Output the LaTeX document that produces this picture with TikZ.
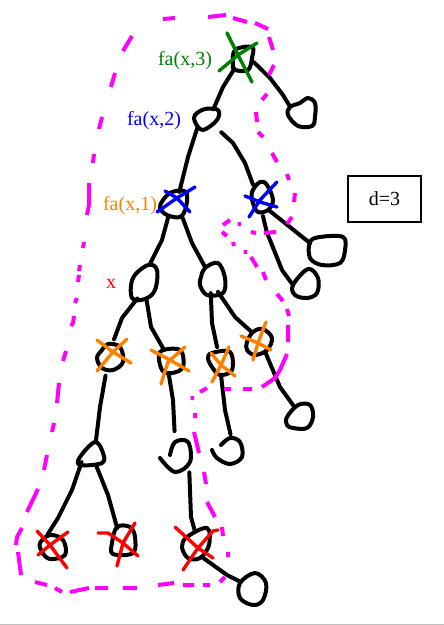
\documentclass[tikz,border=0pt]{standalone}
\usepackage{fontspec}
\setmainfont{Liberation Serif}
\definecolor{fagreen}{RGB}{0,128,0}
\definecolor{faorange}{RGB}{255,128,0}
\definecolor{fablue}{RGB}{0,0,255}
\definecolor{fared}{RGB}{255,0,0}
\definecolor{famagenta}{RGB}{255,0,255}
\definecolor{ruleline}{RGB}{192,192,192}

% a hand drawn tree vertex: name, position, diameter, outline
\newcommand{\blob}[4]{%
    \node[blob=#3] (#1) at (#2) {};
    \draw[penline] plot[smooth cycle, tension=0.6] coordinates {#4};
}
\newcommand{\openblob}[4]{%
    \node[blob=#3] (#1) at (#2) {};
    \draw[penline] plot[smooth, tension=0.6] coordinates {#4};
}

\begin{document}
\begin{tikzpicture}[
        x=1pt, y=-1pt,
        blob/.style={circle, inner sep=0pt, minimum size=#1},
        penline/.style={black, line width=4pt, line cap=round, line join=round},
        crossline/.style={line width=3.4pt, line cap=round, line join=round},
        dashline/.style={famagenta, line width=4pt, line cap=butt, line join=round},
        label/.style={font=\fontsize{20}{20}\selectfont, inner sep=0pt}
    ]
        \useasboundingbox (0,0) rectangle (444,625);
        \fill[white] (0,0) rectangle (444,625);
        \draw[ruleline, line width=1pt] (0,624) -- (444,624);

        % Vertices
        \blob{fa3}{242,59}{24pt}{(235,50) (252,47) (252,58) (248,70) (235,70) (233,65)}
        \blob{top}{302,112}{28pt}{(290,107) (300,103) (308,98) (315,103) (315,117) (312,126) (298,126) (288,115)}
        \blob{fa2}{206,119}{24pt}{(195,115) (205,109) (218,110) (217,120) (203,130) (195,122)}
        \blob{fa1}{174,205}{28pt}{(172,192) (186,192) (186,207) (180,217) (167,215) (160,208) (163,200)}
        \blob{side}{262,197}{30pt}{(252,192) (260,182) (267,185) (273,200) (268,210) (258,212) (253,203)}
        \blob{sider}{327,250}{36pt}{(310,242) (320,237) (343,237) (345,250) (340,263) (322,265) (310,258)}
        \blob{sidel}{306,284}{28pt}{(293,285) (308,269) (318,278) (317,293) (307,298) (295,295)}
        \blob{xnode}{145,282}{36pt}{(148,265) (157,270) (155,290) (145,299) (132,298) (133,278)}
        \blob{ynode}{212,279}{28pt}{(205,268) (218,263) (225,278) (223,293) (207,295) (200,285) (201,277)}
        \blob{na}{110,357}{26pt}{(102,350) (108,344) (120,347) (123,362) (113,370) (102,368) (97,358)}
        \blob{nb}{171,361}{26pt}{(160,352) (180,350) (183,367) (172,373) (162,370)}
        \blob{nc}{220,363}{26pt}{(212,353) (230,352) (232,370) (220,375) (212,367) (208,358)}
        \blob{nd}{258,342}{26pt}{(253,332) (263,329) (272,338) (267,350) (255,355) (247,350) (247,342)}
        \blob{ne}{92,454}{26pt}{(80,457) (95,442) (103,453) (102,463) (80,465)}
        \openblob{nh}{178,455}{36pt}{(170,455) (175,442) (188,442) (190,462) (175,472) (160,458)}
        \openblob{nk}{228,451}{28pt}{(221,445) (230,438) (240,442) (242,457) (230,464) (217,458) (212,450)}
        \blob{nl}{300,417}{26pt}{(287,417) (298,405) (310,405) (313,417) (307,428) (293,428) (287,425)}
        \blob{nf}{52,547}{26pt}{(40,543) (50,535) (63,540) (65,555) (50,559) (42,552)}
        \blob{ng}{123,540}{26pt}{(117,527) (130,527) (135,537) (133,553) (113,554) (112,543)}
        \blob{ni}{196,545}{28pt}{(187,537) (207,528) (209,545) (200,558) (188,558) (182,547)}
        \blob{nj}{253,589}{28pt}{(240,583) (255,573) (266,583) (263,600) (253,605) (240,598)}

        % Connectors
        \draw[penline] (fa3.-128) -- (223,87) -- (fa2.53);
        \draw[penline] (fa3.-15) -- (270,78) -- (283,95) -- (top.153);
        \draw[penline] (fa2.-135) -- (188,157) -- (fa1.68);
        \draw[penline, shorten <=8pt] (fa2.-40) -- (233,143) -- (245,163) -- (side.126);
        \draw[penline] (side.-62) -- (sider.158);
        \draw[penline, shorten <=4pt] (side.-90) -- (267,233) -- (270,240) -- (282,270) -- (sidel.178);
        \draw[penline] (fa1.-115) -- (162,240) -- (xnode.75);
        \draw[penline] (fa1.-55) -- (192,243) -- (ynode.120);
        \draw[penline, shorten >=5pt] (xnode.-115) -- (122,318) -- (na.80);
        \draw[penline] (xnode.-85) -- (151,327) -- (nb.122);
        \draw[penline, shorten >=3pt] (ynode.-95) -- (212,323) -- (nc.100);
        \draw[penline] (ynode.-65) -- (235,317) -- (nd.124);
        \draw[penline, shorten <=6pt] (na.-105) -- (100,407) -- (ne.73);
        \draw[penline] (ne.-142) -- (72,490) -- (58,518) -- (nf.110);
        \draw[penline] (ne.-70) -- (108,495) -- (ng.116);
        \draw[penline, shorten >=6pt] (nb.-100) -- (173,400) -- (nh.100);
        \draw[penline, shorten <=3pt] (nh.-52) -- (191,517) -- (ni.95);
        \draw[penline] (ni.-62) -- (227,575) -- (nj.150);
        \draw[penline, shorten >=3pt] (nc.-85) -- (225,410) -- (nk.77);
        \draw[penline] (nd.-55) -- (280,387) -- (nl.120);

        % Dashed outline
        \draw[dashline] (132,36) -- (123,51) (163,19) -- (175,18) (208,17) -- (226,15)
            (233,18) -- (247,22) (255,23) -- (268,29) (269,37) -- (273,50) (274,65) -- (269,75)
            (267,94) -- (262,100) (256,112) -- (257,122) (258,132) -- (263,137)
            (272,153) -- (277,162) (287,174) -- (289,180) (295,193) -- (294,202)
            (292,217) -- (287,224) (237.5,224) -- (241,224) (223,225) -- (230,220)
            (222,232) -- (227,236) (251,232) -- (256,233) (264,233) -- (276,232)
            (233,242) -- (234,246) (243.5,252) -- (247,252) (251,257) -- (257,267)
            (263,272) -- (266,280) (277,294) -- (283,301) (287,309) -- (289,316)
            (288,325) -- (288,342) (287,354) -- (280,370) -- (275,378) -- (262,387)
            (243,389) -- (252,389) (224,389) -- (231,389) (200,392) -- (207,388)
            (190.5,398) -- (194,398) (195,413) -- (195,418) (194,432) -- (199,453)
            (204,472) -- (206,484) (207,502) -- (215,517) (222,527) -- (223,536)
            (228,552) -- (228,557) (225,577) -- (220,582) (210,585) -- (203,585)
            (194,585) -- (183,585) (174,583) -- (158,585) (137,588) -- (123,588)
            (108,588) -- (95,588) (89,588) -- (70,592) (62,592) -- (55,588) (47,585) -- (35,582)
            (21,575) -- (18,552) (16,545) -- (17,537) -- (22,528) (27,512) -- (38,489)
            (44,470) -- (47,455) (54,423) -- (52,432) (59,383) -- (57,403) (66,351) -- (63,361)
            (74,316) -- (73,323) -- (71,326) (77,298) -- (75,303) (79,275) -- (78,282)
            (80,265) -- (79,271) (84,242) -- (83,248) (89,183) -- (89,205) -- (87,215)
            (94,154) -- (93,163) (102,117) -- (99,129) (115,73) -- (111,87);

        % Crosses
        \draw[crossline, fagreen] (227,33) -- (238,55) -- (252,82) (219,71) -- (238,55) -- (257,43);
        \draw[crossline, fablue] (165,191) -- (177,198) -- (190,212) (157,212) -- (177,198) -- (195,187);
        \draw[crossline, fablue] (245,196) -- (260,202) -- (277,207) (249,217) -- (260,200) -- (277,182);
        \draw[crossline, faorange] (97,340) -- (113,352) -- (131,363) (97,371) -- (113,352) -- (127,339);
        \draw[crossline, faorange] (151,350) -- (170,360) -- (189,371) (161,384) -- (168,362) -- (185,347);
        \draw[crossline, faorange] (211,353) -- (221,365) -- (235,376) (212,382) -- (221,365) -- (229,347);
        \draw[crossline, faorange] (241,336) -- (258,343) -- (271,350) (253,360) -- (258,343) -- (266,322);
        \draw[crossline, fared] (37,531) -- (50,545) -- (67,568) (38,555) -- (50,545) -- (68,532);
        \draw[crossline, fared] (98,533) -- (108,533) -- (123,543) -- (138,556) (117,566) -- (123,543) -- (135,523);
        \draw[crossline, fared] (175,527) -- (198,548) -- (213,558) (183,570) -- (198,548) -- (213,531) -- (218,530);

        % Labels
        \node[label, text=fagreen] (lbl3) at (185,61) {fa(x,3)};
        \node[label, text=fablue] (lbl2) at (154,121) {fa(x,2)};
        \node[label, text=faorange] (lbl1) at (130,206) {fa(x,1)};
        \node[label, text=fared] (lblx) at (111,284) {x};
        \node[draw, line width=2.5pt, minimum width=73pt, minimum height=46pt, label] (dbox) at (384.5,199) {d=3};
    \end{tikzpicture}
\end{document}
